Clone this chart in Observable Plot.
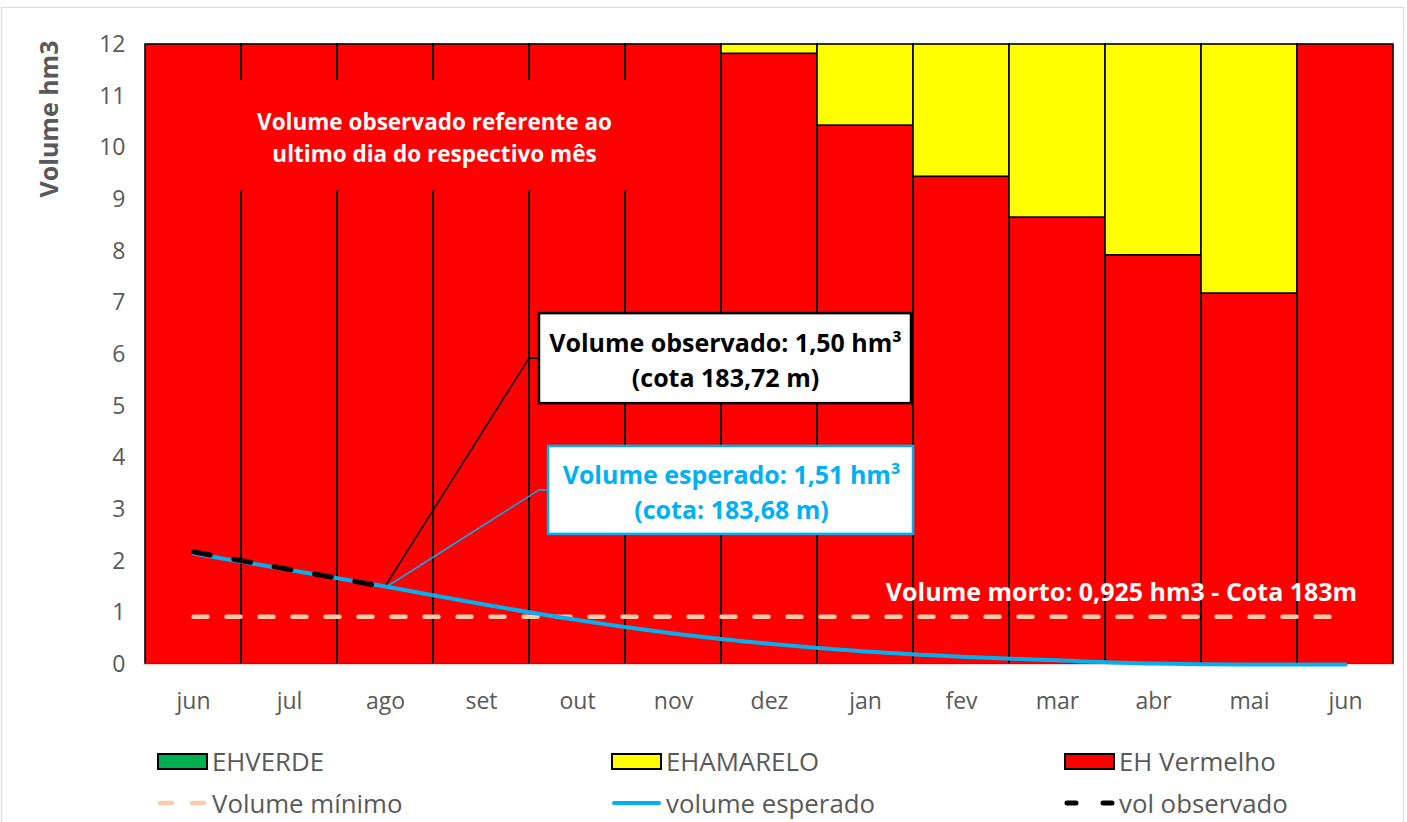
<!DOCTYPE html>
<html><head><meta charset="utf-8">
<script src="https://cdn.jsdelivr.net/npm/d3@7"></script>
<script src="https://cdn.jsdelivr.net/npm/@observablehq/plot@0.6"></script>
<style>
body{margin:0;background:#fff;font-family:"Open Sans",Lato,sans-serif;}
#wrap{position:relative;width:1407px;height:822px;overflow:hidden;background:#fff;}
#frame{position:absolute;left:1px;top:7px;width:1403px;height:840px;border:1.5px solid #d9d9d9;box-sizing:border-box;}
#chart{position:absolute;left:0;top:0;}
#ytitle{position:absolute;left:48px;top:119px;transform:translate(-50%,-50%) rotate(-90deg);font-size:25px;font-weight:bold;color:#595959;white-space:nowrap;}
#legend{position:absolute;left:0;top:740px;width:1407px;height:82px;}
.li{position:absolute;height:34px;display:flex;align-items:center;font-size:25.8px;color:#595959;white-space:nowrap;}
.sw{width:47px;height:13px;border:2px solid #000;box-sizing:content-box;margin-right:4px;}
.ln{margin-right:4px;}
</style></head>
<body><div id="wrap"><div id="frame"></div><div id="chart"></div><div id="ytitle"></div><div id="legend"></div></div>
<script>
// ---- data ----
const months = ["jun","jul","ago","set","out","nov","dez","jan","fev","mar","abr","mai","jun"];
const ehVerde    = [0,0,0,0,0,0,0,0,0,0,0,0,0];
const ehAmarelo  = [0,0,0,0,0,0,0.18,1.57,2.56,3.35,4.08,4.82,0];
const ehVermelho = [12,12,12,12,12,12,11.82,10.43,9.44,8.65,7.92,7.18,12];
const volumeEsperado = [2.15,1.83,1.51,1.17,0.86,0.60,0.40,0.25,0.15,0.08,0.02,0.00,0.00];
const volObservado = [2.18,1.84,1.50];
const volumeMinimo = 0.925;
const yTicks = [0,1,2,3,4,5,6,7,8,9,10,11,12];
const seriesNames = ["EHVERDE","EHAMARELO","EH Vermelho"];
const seriesColors = ["#00b050","#ffff00","#ff0000"];
const lineNames = ["Volume mínimo","volume esperado","vol observado"];
const yTitle = "Volume hm3";
const noteTop = "Volume observado referente ao\nultimo dia do respectivo mês";
const noteObs = "Volume observado: 1,50 hm³\n(cota 183,72 m)";
const noteEsp = "Volume esperado: 1,51 hm³\n(cota: 183,68 m)";
const noteMorto = "Volume morto: 0,925 hm3 - Cota 183m";

// ---- table built from arrays ----
const barRows = [];
months.forEach((m, i) => {
  barRows.push({i, serie: "EH Vermelho", v: ehVermelho[i]});
  barRows.push({i, serie: "EHAMARELO", v: ehAmarelo[i]});
  barRows.push({i, serie: "EHVERDE", v: ehVerde[i]});
});
const bars = barRows.filter(d => d.v > 0);
const minRows = [{i: 0, v: volumeMinimo}, {i: months.length - 1, v: volumeMinimo}];
const espRows = volumeEsperado.map((v, i) => ({i, v}));
const obsRows = volObservado.map((v, i) => ({i, v}));

const FONT = "'Open Sans', Lato, sans-serif";
const chart = Plot.plot({
  width: 1407, height: 740,
  marginTop: 44, marginBottom: 76, marginLeft: 143, marginRight: 12,
  style: {fontFamily: FONT, fontSize: "24px", color: "#595959", background: "transparent"},
  x: {type: "band", domain: d3.range(months.length), padding: 0},
  y: {domain: [0, 12]},
  color: {domain: seriesNames, range: seriesColors},
  marks: [
    Plot.barY(bars, {x: "i", y: "v", fill: "serie", stroke: "#000", strokeWidth: 1.6, inset: 0}),
    Plot.ruleY([0], {stroke: "#d9d9d9", strokeWidth: 1.5}),
    Plot.axisY({ticks: yTicks, tickSize: 0, tickPadding: 18, label: null, fontSize: 23, fill: "#595959"}),
    Plot.axisX({tickSize: 0, tickPadding: 28, label: null, tickFormat: i => months[i], fontSize: 23, fill: "#595959"}),
    Plot.lineY(minRows, {x: "i", y: "v", stroke: "#f8cbad", strokeWidth: 4.5, strokeDasharray: "14,19", strokeLinecap: "round"}),
    Plot.lineY(espRows, {x: "i", y: "v", stroke: "#00b0f0", strokeWidth: 4, curve: "monotone-x"}),
    Plot.lineY(obsRows, {x: "i", y: "v", stroke: "#000", strokeWidth: 5, strokeDasharray: "17,24", strokeLinecap: "round"}),
    Plot.text([noteTop], {x: () => 3, y: () => 10.24, dx: -47, fill: "#fff", fontWeight: "bold", fontSize: 22.5, lineHeight: 1.45}),
    Plot.text([noteObs], {x: () => 6, y: () => 5.92, dx: -44, fill: "#000", fontWeight: "bold", fontSize: 25, lineHeight: 1.4}),
    Plot.text([noteEsp], {x: () => 6, y: () => 3.37, dx: -38, fill: "#00b0f0", fontWeight: "bold", fontSize: 25, lineHeight: 1.4}),
    Plot.text([noteMorto], {x: () => 10, y: () => 1.39, dx: -32, fill: "#fff", fontWeight: "bold", fontSize: 25})
  ]
});
document.getElementById("chart").appendChild(chart);
document.getElementById("ytitle").textContent = yTitle;

// ---- annotation boxes & leaders, placed from the plot's scales ----
const X = chart.scale("x"), Y = chart.scale("y");
const bw = X.bandwidth;
const cx = i => X.apply(i) + bw / 2;
const svg = d3.select(chart);
const barG = svg.select('g[aria-label="bar"]').node();
const ruleG = svg.select('g[aria-label="rule"]').node();
const g = d3.create("svg:g");
(ruleG || barG).after(g.node());
// red cover behind top note
g.append("rect").attr("x", cx(3) - 47 - 232).attr("y", Y.apply(11.30))
  .attr("width", 464).attr("height", Y.apply(9.17) - Y.apply(11.30)).attr("fill", "#ff0000");
const px = cx(2), py = Y.apply(volObservado[2]);
const obsC = [cx(6) - 44, Y.apply(5.92)], espC = [cx(6) - 38.5, Y.apply(3.37)];
const obsW = 372, obsH = 90, espW = 365, espH = 88;
g.append("polyline").attr("points", `${px},${py} ${X.apply(4)},${obsC[1]} ${obsC[0]-obsW/2},${obsC[1]}`)
  .attr("fill", "none").attr("stroke", "#000").attr("stroke-width", 1.5);
g.append("polyline").attr("points", `${px+2},${py} ${obsC[0]-obsW/2},${espC[1]} ${espC[0]-espW/2},${espC[1]}`)
  .attr("fill", "none").attr("stroke", "#00b0f0").attr("stroke-width", 1.5);
g.append("rect").attr("x", obsC[0]-obsW/2).attr("y", obsC[1]-obsH/2).attr("width", obsW).attr("height", obsH)
  .attr("fill", "#fff").attr("stroke", "#000").attr("stroke-width", 2.5);
g.append("rect").attr("x", espC[0]-espW/2).attr("y", espC[1]-espH/2).attr("width", espW).attr("height", espH)
  .attr("fill", "#fff").attr("stroke", "#00b0f0").attr("stroke-width", 2.5);

// ---- legend ----
const legend = document.getElementById("legend");
const cols = [157, 611, 1064];
seriesNames.forEach((name, k) => {
  const d = document.createElement("div");
  d.className = "li"; d.style.left = cols[k] + "px"; d.style.top = "4px";
  d.innerHTML = `<div class="sw" style="background:${seriesColors[k]}"></div><span>${name}</span>`;
  legend.appendChild(d);
});
const lineStyles = [
  {stroke: "#f8cbad", dash: "12,20", w: 4.5},
  {stroke: "#00b0f0", dash: null, w: 4},
  {stroke: "#000", dash: "9,27", w: 5}
];
lineNames.forEach((name, k) => {
  const s = lineStyles[k];
  const d = document.createElement("div");
  d.className = "li"; d.style.left = cols[k] + "px"; d.style.top = "46px";
  d.innerHTML = `<svg class="ln" width="51" height="12"><line x1="3" y1="6" x2="48" y2="6" stroke="${s.stroke}" stroke-width="${s.w}" stroke-linecap="round" ${s.dash ? `stroke-dasharray="${s.dash}"` : ""}/></svg><span>${name}</span>`;
  legend.appendChild(d);
});
</script>
</body></html>
